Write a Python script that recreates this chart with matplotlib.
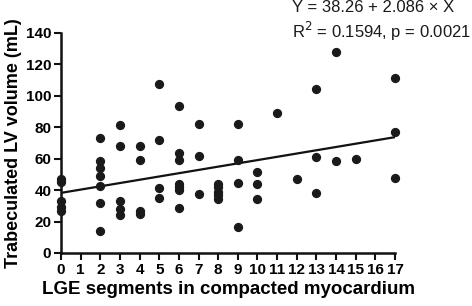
import numpy as np
import matplotlib
matplotlib.use("Agg")
import matplotlib.pyplot as plt

plt.rcParams['font.family'] = ['Liberation Sans', 'DejaVu Sans']

# LGE segments and trabeculated LV volume (mL)
lge = [0, 0, 0, 0, 0,
       2, 2, 2, 2, 2, 2, 2,
       3, 3, 3, 3, 3,
       4, 4, 4, 4,
       5, 5, 5, 5,
       6, 6, 6, 6, 6, 6, 6,
       7, 7, 7,
       8, 8, 8, 8, 8,
       9, 9, 9, 9,
       10, 10, 10,
       11, 12,
       13, 13, 13,
       14, 14,
       15,
       17, 17, 17]
volume = [47, 45, 33, 29, 27,
          73, 58.7, 53.9, 49, 42.8, 31.9, 14,
          81.3, 68.3, 33, 27.9, 24.1,
          68.3, 59.5, 26.6, 25.1,
          107.4, 71.7, 41.5, 35.2,
          93.8, 63.4, 59.4, 44, 42, 39.8, 28.7,
          81.9, 62, 37.3,
          44.2, 41.7, 39, 36.8, 34.1,
          81.8, 59.2, 44.7, 16.6,
          51.7, 43.8, 34.3,
          88.8, 47,
          104.3, 61.3, 38.5,
          127.9, 58.7,
          60,
          111.3, 77.2, 47.9]

intercept = 38.26
slope = 2.086

fig = plt.figure(figsize=(4.72, 3.06), dpi=100)
ax = fig.add_axes([61 / 472, 53 / 306, 334 / 472, 220 / 306])

ax.scatter(lge, volume, s=32, color='#1a1a1a', zorder=3, clip_on=False)
xl = np.array([0, 17])
ax.plot(xl, intercept + slope * xl, color='#111111', lw=1.6, zorder=2)

ax.set_xlim(0, 17)
ax.set_ylim(0, 140)
ax.set_xticks(range(0, 18))
ax.set_yticks(range(0, 141, 20))
for s in ['top', 'right']:
    ax.spines[s].set_visible(False)
for s in ['left', 'bottom']:
    ax.spines[s].set_linewidth(1.8)
    ax.spines[s].set_color('#111111')
ax.tick_params(direction='out', length=5, width=1.5, color='#111111', pad=2)
for lab in ax.get_xticklabels() + ax.get_yticklabels():
    lab.set_fontweight('bold')
    lab.set_fontsize(11)
ax.set_xlabel('LGE segments in compacted myocardium', fontsize=13.5,
              fontweight='bold', labelpad=3)
ax.set_ylabel('Trabeculated LV volume (mL)', fontsize=13,
              fontweight='bold', labelpad=3)

fig.text(292 / 472, 1 - 8 / 306, 'Y = 38.26 + 2.086 \u00d7 X', fontsize=12,
         va='center', ha='left', color='#1a1a1a')
fig.text(292 / 472, 1 - 31 / 306, 'R$^2$ = 0.1594, p = 0.0021', fontsize=12,
         va='center', ha='left', color='#1a1a1a')

fig.savefig('out.png', dpi=100)
